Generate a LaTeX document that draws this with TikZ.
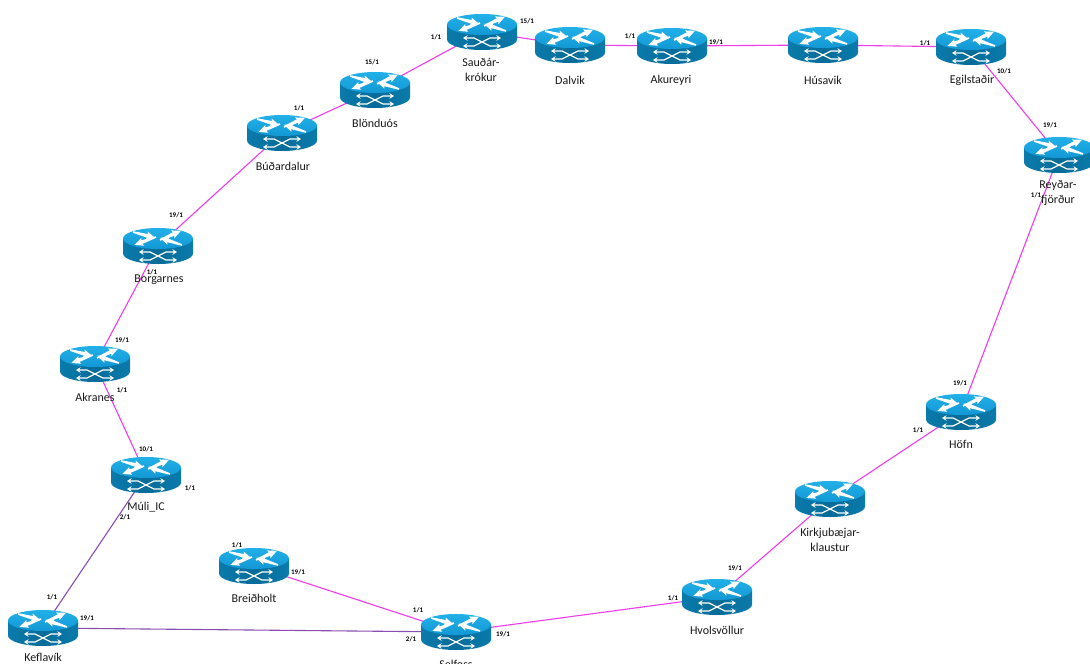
\documentclass[tikz,border=0pt]{standalone}
\usepackage{fontspec}
\setmainfont{Carlito}
\usetikzlibrary{arrows.meta,shapes.geometric}
\definecolor{rtop}{HTML}{22B0E8}
\definecolor{rtopd}{HTML}{1298D4}
\definecolor{rbody}{HTML}{0A7BAB}
\definecolor{rbodyd}{HTML}{076C9A}
\definecolor{lnk}{HTML}{F03CEC}
\definecolor{lnkp}{HTML}{8A4DB0}
\newcommand{\rarrow}[3]{\fill[white,shift={(#1,#2)},rotate=#3] (0,-.8) -- (15,-1.9) -- (14,-4.2) -- (23,0) -- (14,4.2) -- (15,1.9) -- (0,.8) -- cycle;}
\tikzset{
  x=1pt,y=-1pt,
  rtanchor/.style={ellipse,minimum width=60pt,minimum height=26pt,inner sep=0pt,outer sep=0pt},
  magenta link/.style={draw=lnk,line width=1.1pt},
  purple link/.style={draw=lnkp,line width=1.1pt},
  rname/.style={font=\fontsize{12}{15}\selectfont,text=black!90,align=center,inner sep=0pt},
  port/.style={font=\bfseries\fontsize{7}{8}\selectfont,text=black,inner sep=0pt},
  wb/.style={draw=white,line width=1.2pt,{Stealth[width=5.5pt,length=4.5pt]}-{Stealth[width=5.5pt,length=4.5pt]}},
  router/.pic={
    \path[left color=rbody,right color=rbody,middle color=rbodyd]
      (-35,-7.5) -- (-35,7.5) arc[start angle=180,end angle=360,x radius=35pt,y radius=10.5pt] -- (35,-7.5) -- cycle;
    \path[top color=rtop,bottom color=rtopd] (0,-7.5) ellipse[x radius=35pt,y radius=10.5pt];
    \rarrow{-25}{-14}{-15}
    \rarrow{2}{-6}{24}
    \rarrow{-2}{-9}{200}
    \rarrow{24}{-1}{162}
    \draw[wb] (-19,6) -- (-8,6) -- (8,14) -- (19,14);
    \draw[wb] (-19,14) -- (-8,14) -- (8,6) -- (19,6);
  }
}
\begin{document}
\begin{tikzpicture}
\useasboundingbox (0,0) rectangle (1090,664);
\fill[white] (0,0) rectangle (1090,664);
\clip (0,0) rectangle (1090,664);
% router anchors
\foreach \n/\xx/\yy in {sau/482/32,dal/570/45,aku/672/46,hus/823/45,egi/971/47,rey/1059/155,
  blo/375/90,bud/282/133,bor/158/246,akr/95/364,mul/146/475,kef/43/628,bre/254/566,
  sel/456/632,hvo/717/597,kir/830/499,hof/961/412}
  {\node[rtanchor] (\n) at (\xx,\yy) {};}
% connectors
\draw[magenta link] (sau) -- (dal);
\draw[magenta link] (dal) -- (aku);
\draw[magenta link] (aku) -- (hus);
\draw[magenta link] (hus) -- (egi);
\draw[magenta link] (egi) -- (rey);
\draw[magenta link] (rey) -- (hof);
\draw[magenta link] (hof) -- (kir);
\draw[magenta link] (kir) -- (hvo);
\draw[magenta link] (hvo) -- (sel);
\draw[magenta link] (bre) -- (sel);
\draw[magenta link] (sau) -- (blo);
\draw[magenta link] (blo) -- (bud);
\draw[magenta link] (bud) -- (bor);
\draw[magenta link] (bor) -- (akr);
\draw[magenta link] (akr) -- (mul);
\draw[purple link] (mul) -- (kef);
\draw[purple link] (kef) -- (sel);
% routers
\foreach \n in {sau,dal,aku,hus,egi,rey,blo,bud,bor,akr,mul,kef,bre,sel,hvo,kir,hof}
  {\pic at (\n) {router};}
% names
\node[rname] (t1) at (481,69.5) {Sauðár-\\krókur};
\node[rname] (t2) at (570,80) {Dalvik};
\node[rname] (t3) at (671,80) {Akureyri};
\node[rname] (t4) at (823,80) {Húsavik};
\node[rname] (t5) at (972,80) {Egilstaðir};
\node[rname] (t6) at (1058,193.5) {Reyðar-\\fjörður};
\node[rname] (t7) at (375,123) {Blönduós};
\node[rname] (t8) at (283,166) {Búðardalur};
\node[rname] (t9) at (159,280) {Borgarnes};
\node[rname] (t10) at (95,397) {Akranes};
\node[rname] (t11) at (146,507) {Múli\_IC};
\node[rname] (t12) at (43,657) {Keflavík};
\node[rname] (t13) at (254,598) {Breiðholt};
\node[rname] (t14) at (456,664) {Selfoss};
\node[rname] (t15) at (717,630) {Hvolsvöllur};
\node[rname] (t16) at (830,539.5) {Kirkjubæjar-\\klaustur};
\node[rname] (t17) at (961,444) {Höfn};
% ports
\foreach \i/\xx/\yy/\tt in {1/436/37/1\slash 1,2/527/21/15\slash 1,3/630/36/1\slash 1,4/716/42/19\slash 1,
  5/925/43/1\slash 1,6/1004/71/10\slash 1,7/1050/125/19\slash 1,8/1036/195/1\slash 1,9/960/383/19\slash 1,
  10/918/430/1\slash 1,11/735/568/19\slash 1,12/673/598/1\slash 1,13/503/634/19\slash 1,14/418/610/1\slash 1,
  15/411/639/2\slash 1,16/298/572/19\slash 1,17/237/545/1\slash 1,18/87/618/19\slash 1,19/52/597/1\slash 1,
  20/125/517/2\slash 1,21/190/488/1\slash 1,22/146/449/10\slash 1,23/122/390/1\slash 1,24/122/340/19\slash 1,
  25/152/272/1\slash 1,26/176/215/19\slash 1,27/299/108/1\slash 1,28/372/62/15\slash 1}
  {\node[port] (p\i) at (\xx,\yy) {\tt};}
\end{tikzpicture}
\end{document}
